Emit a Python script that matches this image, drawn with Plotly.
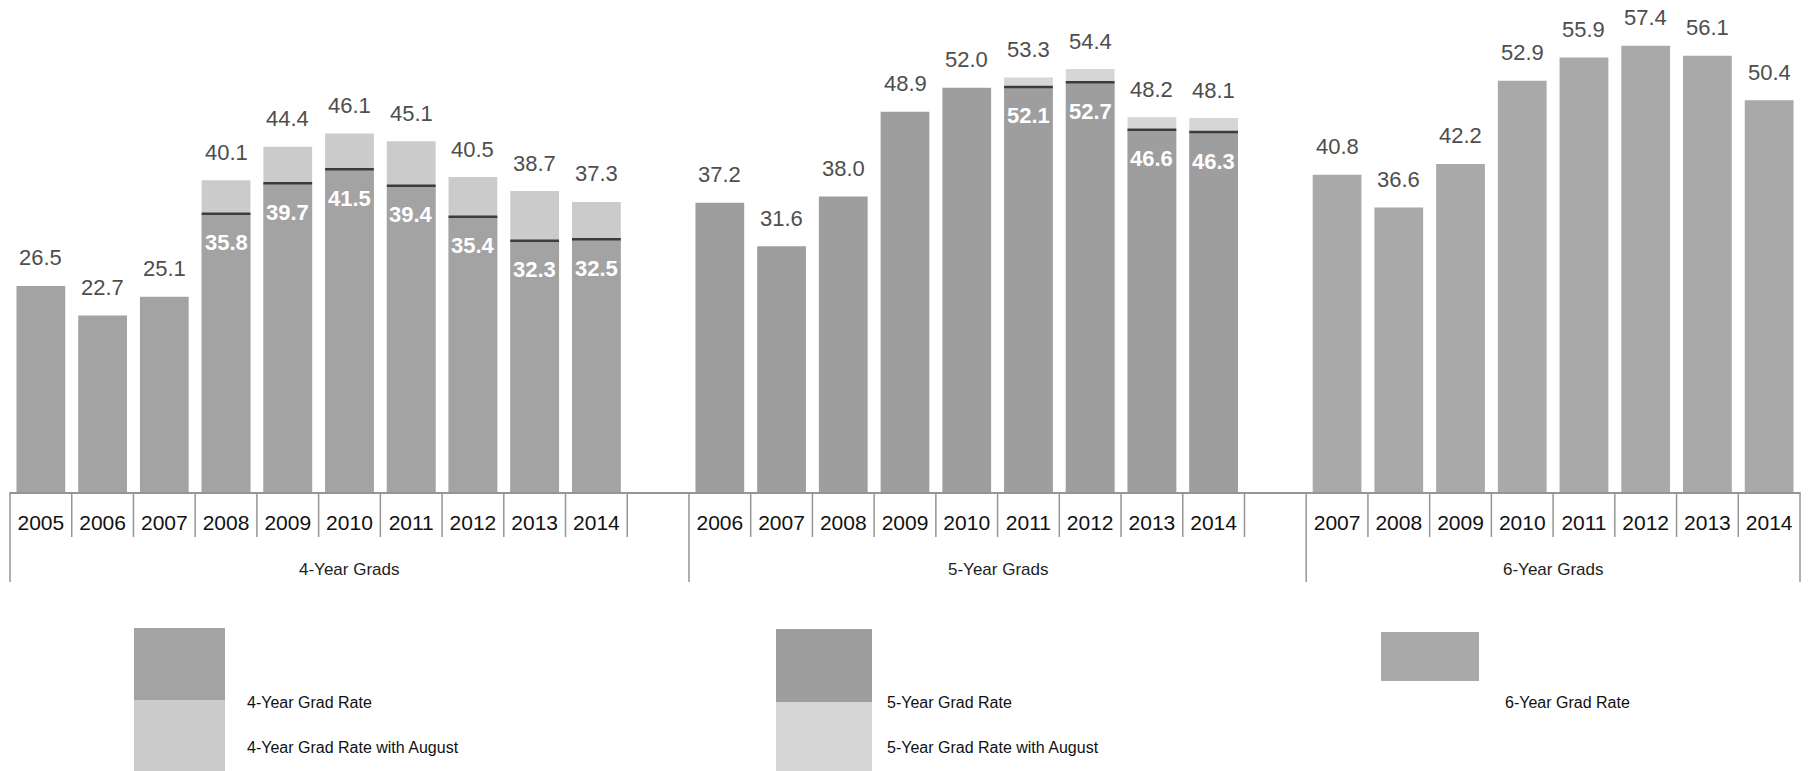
import plotly.graph_objects as go

# ---- data -----------------------------------------------------------------
groups = ["4-Year Grads", "5-Year Grads", "6-Year Grads"]

years_4 = ["2005", "2006", "2007", "2008", "2009", "2010", "2011", "2012", "2013", "2014"]
rate_4 = [26.5, 22.7, 25.1, 35.8, 39.7, 41.5, 39.4, 35.4, 32.3, 32.5]
aug_4 = [None, None, None, 40.1, 44.4, 46.1, 45.1, 40.5, 38.7, 37.3]

years_5 = ["2006", "2007", "2008", "2009", "2010", "2011", "2012", "2013", "2014"]
rate_5 = [37.2, 31.6, 38.0, 48.9, 52.0, 52.1, 52.7, 46.6, 46.3]
aug_5 = [None, None, None, None, None, 53.3, 54.4, 48.2, 48.1]

years_6 = ["2007", "2008", "2009", "2010", "2011", "2012", "2013", "2014"]
rate_6 = [40.8, 36.6, 42.2, 52.9, 55.9, 57.4, 56.1, 50.4]

series_names = [
    "4-Year Grad Rate", "4-Year Grad Rate with August",
    "5-Year Grad Rate", "5-Year Grad Rate with August",
    "6-Year Grad Rate",
]

# ---- styling ----------------------------------------------------------------
C_RATE4 = "#a3a3a3"
C_AUG4 = "#cbcbcb"
C_RATE5 = "#9e9e9e"
C_AUG5 = "#d6d6d6"
C_RATE6 = "#a9a9a9"
C_SPLIT = "#3c3c3c"
C_GRID = "#959595"
C_VALUE = "#4e4e4e"

FONT = "Liberation Sans, Arial, sans-serif"

W, H = 1811, 771
ML, MR, MT = 10, 11, 0
BASE_PX = 492                 # pixel row of the category axis line
PX_PER_UNIT = 7.775
MB = H - BASE_PX
PLOT_W = W - ML - MR
PLOT_H = BASE_PX - MT
BAR_W = 0.79

# slot layout: each group occupies its years plus one spare slot (except last)
group_years = [years_4, years_5, years_6]
spare = [1, 1, 0]
starts = []
pos = 0
for yrs, sp in zip(group_years, spare):
    starts.append(pos)
    pos += len(yrs) + sp
n_slots = pos

x4 = [starts[0] + i for i in range(len(years_4))]
x5 = [starts[1] + i for i in range(len(years_5))]
x6 = [starts[2] + i for i in range(len(years_6))]


def px_x(px):
    return (px - ML) / PLOT_W


def px_y(py):
    return (BASE_PX - py) / PLOT_H


def slot_edge(k):
    return k / n_slots


fig = go.Figure()


def add_bars(xs, vals, color, name):
    pts = [(x, v) for x, v in zip(xs, vals) if v is not None]
    fig.add_trace(go.Bar(
        x=[p[0] for p in pts], y=[p[1] for p in pts], name=name,
        marker=dict(color=color, line=dict(width=0)), width=BAR_W,
        showlegend=False, hoverinfo="x+y",
    ))


# August totals drawn first, the on-time rate overlaid in front
add_bars(x4, aug_4, C_AUG4, series_names[1])
add_bars(x4, rate_4, C_RATE4, series_names[0])
add_bars(x5, aug_5, C_AUG5, series_names[3])
add_bars(x5, rate_5, C_RATE5, series_names[2])
add_bars(x6, rate_6, C_RATE6, series_names[4])

annotations = []
shapes = []


def label_group(xs, rates, augs):
    for x, r, a in zip(xs, rates, augs):
        top = a if a is not None else r
        annotations.append(dict(
            x=x, y=top, xref="x", yref="y", text=f"{top:.1f}", showarrow=False,
            yanchor="middle", yshift=28,
            font=dict(family=FONT, size=22, color=C_VALUE),
        ))
        if a is not None:
            # divider between on-time and August graduates
            shapes.append(dict(
                type="line", xref="x", yref="y",
                x0=x - BAR_W / 2, x1=x + BAR_W / 2, y0=r, y1=r,
                line=dict(color=C_SPLIT, width=2.5), layer="above",
            ))
            annotations.append(dict(
                x=x, y=r, xref="x", yref="y", text=f"<b>{r:.1f}</b>",
                showarrow=False, yanchor="middle", yshift=-29,
                font=dict(family=FONT, size=22, color="#ffffff"),
            ))


label_group(x4, rate_4, aug_4)
label_group(x5, rate_5, aug_5)
label_group(x6, rate_6, [None] * len(rate_6))

# category box: short dividers between years, long ones between groups
group_edges = set(starts) | {n_slots}
SHORT_Y = px_y(537)
LONG_Y = px_y(582)
for k in range(n_slots + 1):
    y1 = LONG_Y if k in group_edges else SHORT_Y
    shapes.append(dict(
        type="line", xref="paper", yref="paper",
        x0=slot_edge(k), x1=slot_edge(k), y0=0, y1=y1,
        line=dict(color=C_GRID, width=1.5),
    ))

# group titles centred in each group box
ends = starts[1:] + [n_slots]
for g, s, e in zip(groups, starts, ends):
    annotations.append(dict(
        x=(slot_edge(s) + slot_edge(e)) / 2, y=px_y(569), xref="paper", yref="paper",
        text=g, showarrow=False, xanchor="center", yanchor="middle",
        font=dict(family=FONT, size=17, color="#1e1e1e"),
    ))

# legend built from swatches and labels
legend_blocks = [
    # (swatch x0, x1, [(y0, y1, color)], text x, [(text, y)])
    (134, 225, [(628, 700, C_RATE4), (700, 771, C_AUG4)], 245,
     [(series_names[0], 703), (series_names[1], 747)]),
    (776, 872, [(629, 702, C_RATE5), (702, 771, C_AUG5)], 885,
     [(series_names[2], 703), (series_names[3], 747)]),
    (1381, 1479, [(632, 681, C_RATE6)], 1503,
     [(series_names[4], 703)]),
]
for sx0, sx1, swatches, tx, texts in legend_blocks:
    for y0, y1, col in swatches:
        shapes.append(dict(
            type="rect", xref="paper", yref="paper",
            x0=px_x(sx0), x1=px_x(sx1), y0=px_y(y1), y1=px_y(y0),
            fillcolor=col, line=dict(width=0),
        ))
    for t, ty in texts:
        annotations.append(dict(
            x=px_x(tx), y=px_y(ty), xref="paper", yref="paper", text=t,
            showarrow=False, xanchor="left", yanchor="middle",
            font=dict(family=FONT, size=16, color="#111111"),
        ))

tickvals = x4 + x5 + x6
ticktext = years_4 + years_5 + years_6

fig.update_layout(
    width=W, height=H, autosize=False,
    margin=dict(l=ML, r=MR, t=MT, b=MB, pad=0),
    paper_bgcolor="#ffffff", plot_bgcolor="#ffffff",
    barmode="overlay",
    showlegend=False,
    xaxis=dict(
        range=[-0.5, n_slots - 0.5], tickmode="array",
        tickvals=tickvals, ticktext=ticktext, ticks="", tickangle=0,
        showline=True, linecolor=C_GRID, linewidth=1.5,
        showgrid=False, zeroline=False, ticklabelstandoff=11,
        tickfont=dict(family=FONT, size=21, color="#111111"),
        fixedrange=True,
    ),
    yaxis=dict(
        range=[0, PLOT_H / PX_PER_UNIT], visible=False,
        showgrid=False, zeroline=False, fixedrange=True,
    ),
    shapes=shapes,
    annotations=annotations,
)

fig.write_html("out.html")
